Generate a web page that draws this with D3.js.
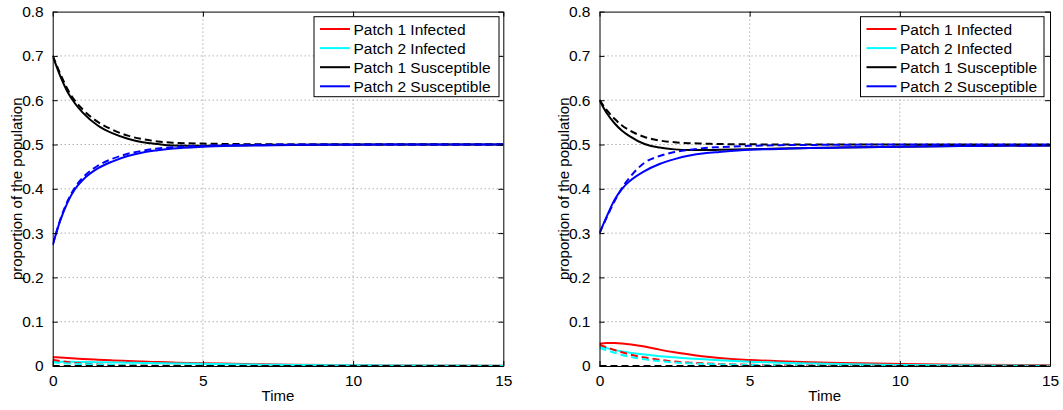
<!DOCTYPE html>
<html>
<head>
<meta charset="utf-8">
<script src="https://cdn.jsdelivr.net/npm/d3@7"></script>
<style>
  html, body { margin: 0; padding: 0; background: #fff; }
  svg { display: block; font-family: "Liberation Sans", Arial, Helvetica, sans-serif; }
</style>
</head>
<body>
<svg id="chart" width="1063" height="410"></svg>
<script>
// Sample times shared by every series
const times = [0, 0.25, 0.5, 0.75, 1, 1.5, 2, 2.5, 3, 3.5, 4, 5, 6, 7, 8, 10, 12, 15];

const xTicks = [0, 5, 10, 15];
const yTicks = [0, 0.1, 0.2, 0.3, 0.4, 0.5, 0.6, 0.7, 0.8];
const legendLabels = ["Patch 1 Infected", "Patch 2 Infected", "Patch 1 Susceptible", "Patch 2 Susceptible"];
const seriesColors = ["#ff0000", "#00ffff", "#000000", "#0000ff"];

// ---- Left panel: solid curves ----
const leftInf1 = [0.020, 0.019, 0.018, 0.017, 0.016, 0.0142, 0.0126, 0.0112, 0.0099, 0.0088, 0.0078, 0.0061, 0.0048, 0.0037, 0.0029, 0.0018, 0.0011, 0.0005];
const leftInf2 = [0.010, 0.0098, 0.0095, 0.0092, 0.009, 0.0085, 0.008, 0.0075, 0.0069, 0.0064, 0.0058, 0.0048, 0.0039, 0.0031, 0.0025, 0.0015, 0.0009, 0.0004];
const leftSus1 = [0.700, 0.655, 0.618, 0.592, 0.572, 0.543, 0.525, 0.513, 0.505, 0.501, 0.498, 0.497, 0.498, 0.499, 0.4995, 0.500, 0.500, 0.500];
const leftSus2 = [0.273, 0.328, 0.370, 0.400, 0.420, 0.446, 0.462, 0.474, 0.482, 0.487, 0.491, 0.495, 0.497, 0.498, 0.499, 0.4995, 0.500, 0.500];
// ---- Left panel: dashed curves ----
const leftInf1Dash = [0.014, 0.011, 0.0088, 0.007, 0.0056, 0.0036, 0.0023, 0.0015, 0.001, 0.0006, 0.0004, 0.0002, 0.0001, 0, 0, 0, 0, 0];
const leftInf2Dash = [0.008, 0.0068, 0.0058, 0.005, 0.0042, 0.003, 0.0021, 0.0015, 0.0011, 0.0008, 0.0005, 0.0003, 0.0001, 0, 0, 0, 0, 0];
const leftSus1Dash = [0.700, 0.660, 0.624, 0.598, 0.579, 0.551, 0.533, 0.520, 0.512, 0.507, 0.504, 0.502, 0.501, 0.5005, 0.500, 0.500, 0.500, 0.500];
const leftSus2Dash = [0.273, 0.330, 0.373, 0.404, 0.425, 0.452, 0.468, 0.479, 0.486, 0.491, 0.494, 0.497, 0.499, 0.4995, 0.500, 0.500, 0.500, 0.500];
const leftBase = [0, 0, 0, 0, 0, 0, 0, 0, 0, 0, 0, 0, 0, 0, 0, 0, 0, 0];

// ---- Right panel: solid curves ----
const rightInf1 = [0.050, 0.052, 0.052, 0.051, 0.049, 0.044, 0.037, 0.031, 0.026, 0.0215, 0.018, 0.0135, 0.0105, 0.0083, 0.0066, 0.0045, 0.003, 0.0015];
const rightInf2 = [0.044, 0.040, 0.036, 0.033, 0.030, 0.026, 0.022, 0.0195, 0.017, 0.015, 0.013, 0.0098, 0.0075, 0.0057, 0.0043, 0.0025, 0.0015, 0.0006];
const rightSus1 = [0.600, 0.570, 0.548, 0.531, 0.519, 0.501, 0.493, 0.489, 0.4876, 0.4876, 0.488, 0.489, 0.491, 0.492, 0.493, 0.495, 0.4965, 0.498];
const rightSus2 = [0.300, 0.339, 0.375, 0.400, 0.417, 0.440, 0.456, 0.467, 0.475, 0.480, 0.483, 0.488, 0.490, 0.492, 0.493, 0.495, 0.4965, 0.498];
// ---- Right panel: dashed curves ----
const rightInf1Dash = [0.048, 0.042, 0.036, 0.031, 0.026, 0.019, 0.014, 0.010, 0.0075, 0.0058, 0.0045, 0.0028, 0.0017, 0.001, 0.0006, 0.0002, 0.0001, 0];
const rightInf2Dash = [0.041, 0.035, 0.030, 0.025, 0.021, 0.015, 0.011, 0.008, 0.006, 0.0047, 0.0037, 0.0022, 0.0013, 0.0008, 0.0005, 0.0002, 0.0001, 0];
const rightSus1Dash = [0.600, 0.577, 0.558, 0.543, 0.532, 0.517, 0.509, 0.505, 0.503, 0.502, 0.501, 0.5005, 0.500, 0.500, 0.500, 0.500, 0.500, 0.500];
const rightSus2Dash = [0.300, 0.337, 0.372, 0.402, 0.425, 0.459, 0.474, 0.483, 0.488, 0.492, 0.494, 0.497, 0.4985, 0.499, 0.4995, 0.500, 0.500, 0.500];
const rightBase = [0, 0, 0, 0, 0, 0, 0, 0, 0, 0, 0, 0, 0, 0, 0, 0, 0, 0];

const panels = [
  {
    left: 52.7, right: 503.3, labelX: 16,
    solid: [leftInf1, leftInf2, leftSus1, leftSus2],
    dashed: [[leftInf1Dash, 0], [leftInf2Dash, 1], [leftSus1Dash, 2], [leftSus2Dash, 3], [leftBase, 2]],
    legend: { x: 314, w: 185 }
  },
  {
    left: 599.5, right: 1050, labelX: 563,
    solid: [rightInf1, rightInf2, rightSus1, rightSus2],
    dashed: [[rightInf1Dash, 0], [rightInf2Dash, 1], [rightSus1Dash, 2], [rightSus2Dash, 3], [rightBase, 2]],
    legend: { x: 860.5, w: 183.5 }
  }
];

const plotTop = 11.6, plotBottom = 366;
const svg = d3.select("#chart");
svg.append("rect").attr("width", 1063).attr("height", 410).attr("fill", "#fff");

panels.forEach((p, pi) => {
  const x = d3.scaleLinear().domain([0, 15]).range([p.left, p.right]);
  const y = d3.scaleLinear().domain([0, 0.8]).range([plotBottom, plotTop]);
  const g = svg.append("g");

  // dotted grid
  const grid = g.append("g").attr("stroke", "#808080").attr("stroke-width", 0.9)
    .attr("stroke-dasharray", "1,3");
  xTicks.slice(1, -1).forEach(t => {
    grid.append("line").attr("x1", x(t)).attr("x2", x(t)).attr("y1", plotTop).attr("y2", plotBottom);
  });
  yTicks.slice(1, -1).forEach(t => {
    grid.append("line").attr("x1", p.left).attr("x2", p.right).attr("y1", y(t)).attr("y2", y(t));
  });

  // curves
  const clipId = "clip" + pi;
  svg.append("clipPath").attr("id", clipId).append("rect")
    .attr("x", p.left).attr("y", plotTop - 2).attr("width", p.right - p.left).attr("height", plotBottom - plotTop + 4);
  const line = d3.line().x((d, i) => x(times[i])).y(d => y(d)).curve(d3.curveMonotoneX);
  const curves = g.append("g").attr("clip-path", `url(#${clipId})`).attr("fill", "none");
  p.solid.forEach((vals, k) => {
    curves.append("path").attr("d", line(vals)).attr("stroke", seriesColors[k]).attr("stroke-width", 2);
  });
  p.dashed.forEach(([vals, k]) => {
    curves.append("path").attr("d", line(vals)).attr("stroke", seriesColors[k]).attr("stroke-width", 2)
      .attr("stroke-dasharray", "7,4");
  });

  // axes (inward ticks on all four sides, MATLAB box style)
  const tickLen = 5;
  const axBottom = d3.axisBottom(x).tickValues(xTicks).tickSizeInner(-tickLen).tickSizeOuter(0).tickPadding(9)
    .tickFormat(d3.format("d"));
  const axTop = d3.axisTop(x).tickValues(xTicks).tickSizeInner(-tickLen).tickSizeOuter(0).tickFormat("");
  const axLeft = d3.axisLeft(y).tickValues(yTicks).tickSizeInner(-tickLen).tickSizeOuter(0).tickPadding(9)
    .tickFormat(d => d === 0 ? "0" : d3.format(".1f")(d));
  const axRight = d3.axisRight(y).tickValues(yTicks).tickSizeInner(-tickLen).tickSizeOuter(0).tickFormat("");

  const styleAxis = sel => {
    sel.selectAll("path").attr("stroke", "#000").attr("stroke-width", 1);
    sel.selectAll("line").attr("stroke", "#000").attr("stroke-width", 1);
    sel.selectAll("text").attr("fill", "#000").attr("font-size", 15.5)
      .attr("font-family", '"Liberation Sans", Arial, sans-serif');
  };
  g.append("g").attr("transform", `translate(0,${plotBottom})`).call(axBottom).call(styleAxis);
  g.append("g").attr("transform", `translate(0,${plotTop})`).call(axTop).call(styleAxis);
  g.append("g").attr("transform", `translate(${p.left},0)`).call(axLeft).call(styleAxis);
  g.append("g").attr("transform", `translate(${p.right},0)`).call(axRight).call(styleAxis);

  // axis titles
  g.append("text").attr("x", (p.left + p.right) / 2).attr("y", 400.5).attr("text-anchor", "middle")
    .attr("font-size", 15).text("Time");
  g.append("text").attr("transform", `translate(${p.labelX},${(plotTop + plotBottom) / 2}) rotate(-90)`)
    .attr("text-anchor", "middle").attr("dominant-baseline", "central")
    .attr("font-size", 15).text("proportion of the population");

  // legend
  const lg = g.append("g");
  lg.append("rect").attr("x", p.legend.x).attr("y", 16.7).attr("width", p.legend.w).attr("height", 80)
    .attr("fill", "#fff").attr("stroke", "#000").attr("stroke-width", 1);
  legendLabels.forEach((lab, k) => {
    const cy = 29 + k * 19.1;
    lg.append("line").attr("x1", p.legend.x + 6).attr("x2", p.legend.x + 36).attr("y1", cy).attr("y2", cy)
      .attr("stroke", seriesColors[k]).attr("stroke-width", 2);
    lg.append("text").attr("x", p.legend.x + 39.5).attr("y", cy).attr("dominant-baseline", "central")
      .attr("font-size", 15.5).text(lab);
  });
});
</script>
</body>
</html>
